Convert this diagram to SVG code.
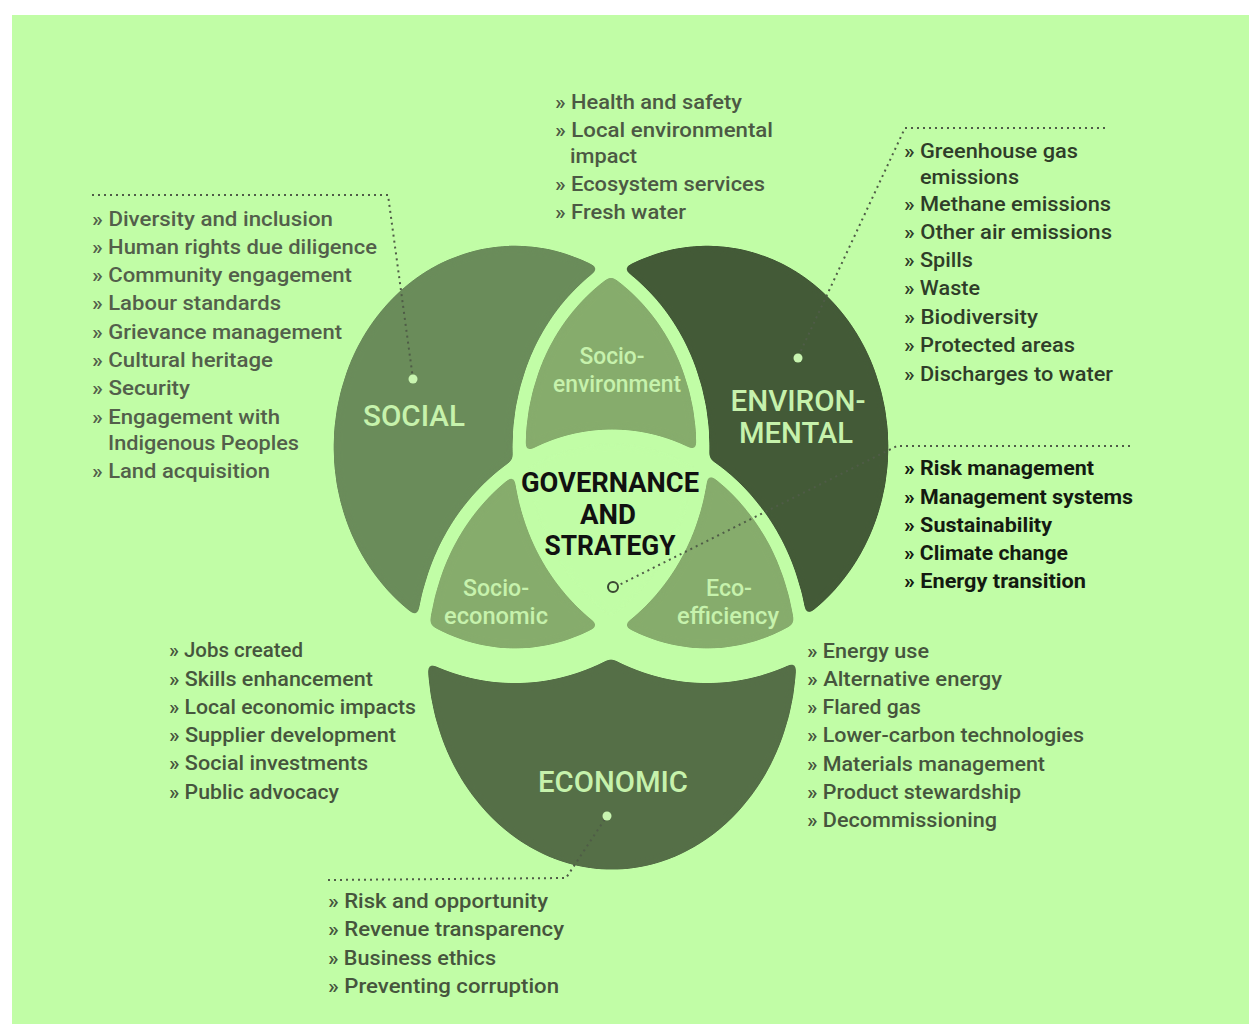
<svg xmlns="http://www.w3.org/2000/svg" xmlns:xlink="http://www.w3.org/1999/xlink" width="1249" height="1024" viewBox="0 0 1249 1024">
<style>
text{font-family:Roboto,"Liberation Sans",sans-serif}
.li{font-size:21px;font-weight:500}
.soc{fill:#535f4b}.top{fill:#4c5944}.env{fill:#2f3d29}.gov{fill:#141a11;font-weight:700}.eco{fill:#46553d}
.lbl{fill:#c6f2ac;font-weight:500;text-anchor:middle}
.big{font-size:30px}.mid{font-size:23px}
.gvt{fill:#111;font-size:27px;font-weight:700;text-anchor:middle}
.dotline{fill:none;stroke:#4f5c47;stroke-width:2;stroke-dasharray:2 4}
.cut{fill:none;stroke:#000;stroke-width:13}
.dot{fill:#c8f5b0}
</style>
<defs>
<ellipse id="eA" cx="515" cy="447" rx="188" ry="208"/>
<ellipse id="eB" cx="707" cy="447" rx="188" ry="208"/>
<ellipse id="eC" cx="612" cy="656" rx="191" ry="220"/>
<ellipse id="eA2" cx="515" cy="447" rx="215" ry="236"/>
<ellipse id="eB2" cx="707" cy="447" rx="215" ry="236"/>
<clipPath id="cA"><use xlink:href="#eA"/></clipPath>
<clipPath id="cB"><use xlink:href="#eB"/></clipPath>
<mask id="mEcon" maskUnits="userSpaceOnUse" x="0" y="0" width="1249" height="1024">
<rect width="1249" height="1024" fill="#fff"/>
<use xlink:href="#eA2" fill="#000"/>
<use xlink:href="#eB2" fill="#000"/>
</mask>
<mask id="mGaps" maskUnits="userSpaceOnUse" x="0" y="0" width="1249" height="1024">
<rect width="1249" height="1024" fill="#fff"/>
<use xlink:href="#eA" class="cut"/>
<use xlink:href="#eB" class="cut"/>
<use xlink:href="#eC" class="cut"/>
</mask>
<filter id="round" filterUnits="userSpaceOnUse" x="250" y="180" width="720" height="740" color-interpolation-filters="sRGB">
<feGaussianBlur in="SourceGraphic" stdDeviation="3.5"/>
<feComponentTransfer><feFuncA type="linear" slope="12" intercept="-5.5"/></feComponentTransfer>
</filter>
</defs>
<rect width="1249" height="1024" fill="#ffffff"/>
<rect x="12" y="15" width="1237" height="1009" fill="#c1fda6"/>

<g id="venn" filter="url(#round)">
<g mask="url(#mGaps)">
<g id="economic"><use xlink:href="#eC" fill="#556f47" mask="url(#mEcon)"/></g>
<g id="social"><use xlink:href="#eA" fill="#6a8c5a"/></g>
<g id="environmental"><use xlink:href="#eB" fill="#435a37"/></g>
<g id="socio-environment"><use xlink:href="#eB" clip-path="url(#cA)" fill="#86ac6c"/></g>
<g id="socio-economic"><use xlink:href="#eC" clip-path="url(#cA)" fill="#86ac6c"/></g>
<g id="eco-efficiency"><use xlink:href="#eC" clip-path="url(#cB)" fill="#86ac6c"/></g>
<g id="governance" clip-path="url(#cB)"><use xlink:href="#eC" clip-path="url(#cA)" fill="#c1fda6"/></g>
</g>
</g>

<g id="connectors">
<polyline class="dotline" points="92,195 388,195 413,379"/>
<polyline class="dotline" points="1105,128 905,128 798,357"/>
<polyline class="dotline" points="1130,446 897,446 619,585"/>
<polyline class="dotline" points="328,880 566,878 607,816"/>
<circle class="dot" cx="413" cy="379" r="4.5"/>
<circle class="dot" cx="798" cy="358" r="4.5"/>
<circle class="dot" cx="607" cy="816" r="4.5"/>
<circle cx="613" cy="587" r="5" fill="none" stroke="#3a4732" stroke-width="2"/>
</g>

<g id="labels">
<text class="lbl big" x="414" y="426" textLength="102" lengthAdjust="spacingAndGlyphs">SOCIAL</text>
<text class="lbl big" x="798" y="411" textLength="135" lengthAdjust="spacingAndGlyphs">ENVIRON-</text>
<text class="lbl big" x="796" y="443" textLength="114" lengthAdjust="spacingAndGlyphs">MENTAL</text>
<text class="lbl big" x="613" y="792" textLength="150" lengthAdjust="spacingAndGlyphs">ECONOMIC</text>
<text class="lbl mid" x="612" y="364" textLength="65" lengthAdjust="spacingAndGlyphs">Socio-</text>
<text class="lbl mid" x="617" y="392" textLength="128" lengthAdjust="spacingAndGlyphs">environment</text>
<text class="lbl mid" x="496" y="596" textLength="66" lengthAdjust="spacingAndGlyphs">Socio-</text>
<text class="lbl mid" x="496" y="624" textLength="104" lengthAdjust="spacingAndGlyphs">economic</text>
<text class="lbl mid" x="729" y="596" textLength="46" lengthAdjust="spacingAndGlyphs">Eco-</text>
<text class="lbl mid" x="728" y="624" textLength="102" lengthAdjust="spacingAndGlyphs">efficiency</text>
<text class="gvt" x="610" y="492" textLength="178" lengthAdjust="spacingAndGlyphs">GOVERNANCE</text>
<text class="gvt" x="608" y="524" textLength="56" lengthAdjust="spacingAndGlyphs">AND</text>
<text class="gvt" x="610" y="555" textLength="131" lengthAdjust="spacingAndGlyphs">STRATEGY</text>
</g>

<g id="social-list" class="li soc">
<text x="92" y="226" textLength="241" lengthAdjust="spacingAndGlyphs">» Diversity and inclusion</text>
<text x="92" y="254" textLength="285" lengthAdjust="spacingAndGlyphs">» Human rights due diligence</text>
<text x="92" y="282" textLength="260" lengthAdjust="spacingAndGlyphs">» Community engagement</text>
<text x="92" y="310" textLength="189" lengthAdjust="spacingAndGlyphs">» Labour standards</text>
<text x="92" y="339" textLength="250" lengthAdjust="spacingAndGlyphs">» Grievance management</text>
<text x="92" y="367" textLength="181" lengthAdjust="spacingAndGlyphs">» Cultural heritage</text>
<text x="92" y="395" textLength="98" lengthAdjust="spacingAndGlyphs">» Security</text>
<text x="92" y="424" textLength="188" lengthAdjust="spacingAndGlyphs">» Engagement with</text>
<text x="108" y="450" textLength="191" lengthAdjust="spacingAndGlyphs">Indigenous Peoples</text>
<text x="92" y="478" textLength="178" lengthAdjust="spacingAndGlyphs">» Land acquisition</text>
</g>

<g id="socio-environment-list" class="li top">
<text x="555" y="109" textLength="187" lengthAdjust="spacingAndGlyphs">» Health and safety</text>
<text x="555" y="137" textLength="218" lengthAdjust="spacingAndGlyphs">» Local environmental</text>
<text x="570" y="163" textLength="67" lengthAdjust="spacingAndGlyphs">impact</text>
<text x="555" y="191" textLength="210" lengthAdjust="spacingAndGlyphs">» Ecosystem services</text>
<text x="555" y="219" textLength="131" lengthAdjust="spacingAndGlyphs">» Fresh water</text>
</g>

<g id="environmental-list" class="li env">
<text x="904" y="158" textLength="174" lengthAdjust="spacingAndGlyphs">» Greenhouse gas</text>
<text x="920" y="184" textLength="99" lengthAdjust="spacingAndGlyphs">emissions</text>
<text x="904" y="211" textLength="207" lengthAdjust="spacingAndGlyphs">» Methane emissions</text>
<text x="904" y="239" textLength="208" lengthAdjust="spacingAndGlyphs">» Other air emissions</text>
<text x="904" y="267" textLength="69" lengthAdjust="spacingAndGlyphs">» Spills</text>
<text x="904" y="295" textLength="76" lengthAdjust="spacingAndGlyphs">» Waste</text>
<text x="904" y="324" textLength="134" lengthAdjust="spacingAndGlyphs">» Biodiversity</text>
<text x="904" y="352" textLength="171" lengthAdjust="spacingAndGlyphs">» Protected areas</text>
<text x="904" y="381" textLength="209" lengthAdjust="spacingAndGlyphs">» Discharges to water</text>
</g>

<g id="governance-list" class="li gov">
<text x="904" y="475" textLength="190" lengthAdjust="spacingAndGlyphs">» Risk management</text>
<text x="904" y="504" textLength="229" lengthAdjust="spacingAndGlyphs">» Management systems</text>
<text x="904" y="532" textLength="148" lengthAdjust="spacingAndGlyphs">» Sustainability</text>
<text x="904" y="560" textLength="164" lengthAdjust="spacingAndGlyphs">» Climate change</text>
<text x="904" y="588" textLength="182" lengthAdjust="spacingAndGlyphs">» Energy transition</text>
</g>

<g id="socio-economic-list" class="li eco">
<text x="169" y="657" textLength="134" lengthAdjust="spacingAndGlyphs">» Jobs created</text>
<text x="169" y="686" textLength="204" lengthAdjust="spacingAndGlyphs">» Skills enhancement</text>
<text x="169" y="714" textLength="247" lengthAdjust="spacingAndGlyphs">» Local economic impacts</text>
<text x="169" y="742" textLength="227" lengthAdjust="spacingAndGlyphs">» Supplier development</text>
<text x="169" y="770" textLength="199" lengthAdjust="spacingAndGlyphs">» Social investments</text>
<text x="169" y="799" textLength="170" lengthAdjust="spacingAndGlyphs">» Public advocacy</text>
</g>

<g id="eco-efficiency-list" class="li eco">
<text x="807" y="658" textLength="122" lengthAdjust="spacingAndGlyphs">» Energy use</text>
<text x="807" y="686" textLength="195" lengthAdjust="spacingAndGlyphs">» Alternative energy</text>
<text x="807" y="714" textLength="114" lengthAdjust="spacingAndGlyphs">» Flared gas</text>
<text x="807" y="742" textLength="277" lengthAdjust="spacingAndGlyphs">» Lower-carbon technologies</text>
<text x="807" y="771" textLength="238" lengthAdjust="spacingAndGlyphs">» Materials management</text>
<text x="807" y="799" textLength="214" lengthAdjust="spacingAndGlyphs">» Product stewardship</text>
<text x="807" y="827" textLength="190" lengthAdjust="spacingAndGlyphs">» Decommissioning</text>
</g>

<g id="economic-list" class="li eco">
<text x="328" y="908" textLength="220" lengthAdjust="spacingAndGlyphs">» Risk and opportunity</text>
<text x="328" y="936" textLength="236" lengthAdjust="spacingAndGlyphs">» Revenue transparency</text>
<text x="328" y="965" textLength="168" lengthAdjust="spacingAndGlyphs">» Business ethics</text>
<text x="328" y="993" textLength="231" lengthAdjust="spacingAndGlyphs">» Preventing corruption</text>
</g>
</svg>
